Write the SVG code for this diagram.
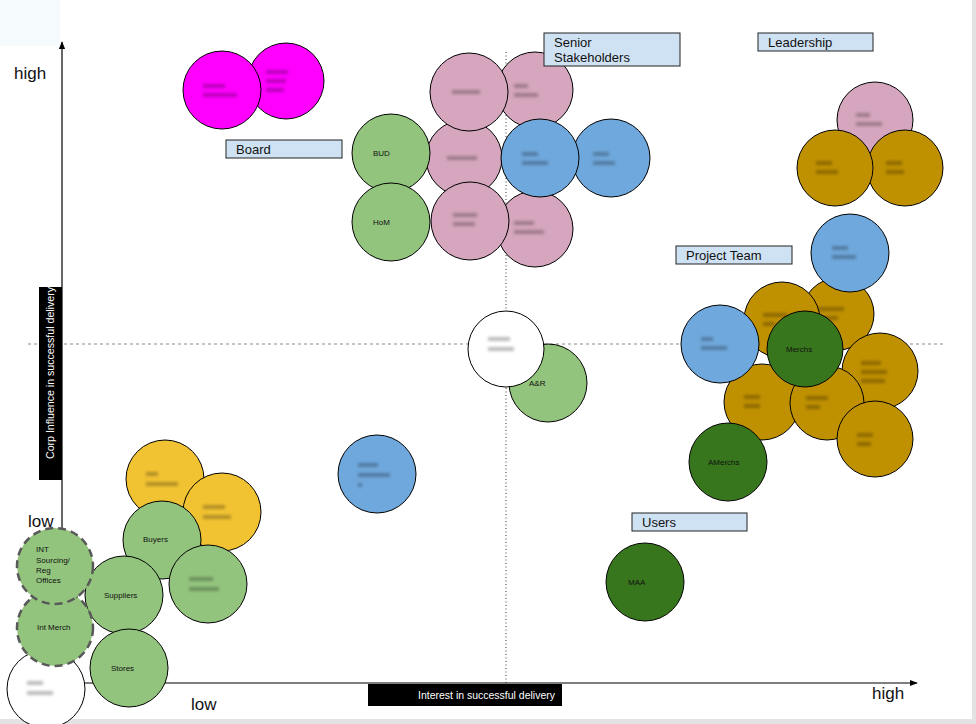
<svg xmlns="http://www.w3.org/2000/svg" width="976" height="724" viewBox="0 0 976 724">
<defs>
<style>
.n{stroke:#000;stroke-width:1}
.pk{fill:#d5a6bd}.mg{fill:#ff00ff}.gr{fill:#93c47d}.bl{fill:#6fa8dc}.gd{fill:#bf9000}.dg{fill:#38761d}.yl{fill:#f1c232}.wh{fill:#fff}
.dash{stroke:#595959;stroke-width:2.5;stroke-dasharray:8 5}
.t{font-family:"Liberation Sans",Arial,sans-serif;font-size:8px;fill:#111}
.lab{fill:#cfe2f3;stroke:#222;stroke-width:1}
.lt{font-family:"Liberation Sans",Arial,sans-serif;font-size:13px;fill:#111}
.ax{font-family:"Liberation Sans",Arial,sans-serif;font-size:17px;fill:#111}
.wt{font-family:"Liberation Sans",Arial,sans-serif;font-size:11px;fill:#fff}
.bb{fill:#000;opacity:0.26}
</style>
<filter id="blur" x="-50%" y="-50%" width="200%" height="200%"><feGaussianBlur stdDeviation="1.7"/></filter>
<marker id="arr" viewBox="0 0 10 10" refX="9" refY="5" markerWidth="8" markerHeight="8" markerUnits="userSpaceOnUse" orient="auto"><path d="M0,1 L10,5 L0,9 z" fill="#000"/></marker>
</defs>
<rect x="0" y="0" width="976" height="724" fill="#fff"/>
<rect x="0" y="0" width="60" height="46" fill="#f5fbfd"/>
<rect x="972" y="0" width="4" height="724" fill="#e3e3e3"/>
<rect x="0" y="719" width="976" height="5" fill="#e3e3e3"/>

<g id="connectors">
<line x1="28" y1="344" x2="945" y2="344" stroke="#888" stroke-width="1" stroke-dasharray="3 3"/>
<line x1="506" y1="52" x2="506" y2="683" stroke="#333" stroke-width="1" stroke-dasharray="1 2.5"/>
<line x1="62" y1="683" x2="62" y2="42" stroke="#000" stroke-width="1.2" marker-end="url(#arr)"/>
<line x1="62" y1="683" x2="917" y2="683" stroke="#000" stroke-width="1.2" marker-end="url(#arr)"/>
</g>

<g id="axis-labels">
<text class="ax" x="14" y="79">high</text>
<text class="ax" x="28" y="527">low</text>
<text class="ax" x="191" y="710">low</text>
<text class="ax" x="872" y="699">high</text>
<rect x="39" y="287" width="23" height="193" fill="#000"/>
<text class="wt" transform="translate(54,459) rotate(-90)" textLength="172" lengthAdjust="spacingAndGlyphs">Corp Influence in successful delivery</text>
<rect x="368" y="684" width="194" height="22" fill="#000"/>
<text class="wt" x="418" y="699" textLength="137" lengthAdjust="spacingAndGlyphs">Interest in successful delivery</text>
</g>

<!-- Board -->
<g id="board-2"><circle class="n mg" cx="286" cy="81" r="38"/><g filter="url(#blur)"><rect class="bb" x="266" y="70" width="22" height="4"/><rect class="bb" x="266" y="79" width="20" height="4"/><rect class="bb" x="266" y="88" width="18" height="4"/></g></g>
<g id="board-1"><circle class="n mg" cx="222" cy="90" r="39"/><g filter="url(#blur)"><rect class="bb" x="203" y="84" width="22" height="4"/><rect class="bb" x="203" y="93" width="34" height="4"/></g></g>

<!-- Senior stakeholders -->
<g id="ss-carl"><circle class="n pk" cx="535" cy="90" r="38"/><g filter="url(#blur)"><rect class="bb" x="514" y="84" width="14" height="4"/><rect class="bb" x="514" y="93" width="24" height="4"/></g></g>
<g id="ss-pb"><circle class="n pk" cx="535" cy="229" r="38"/><g filter="url(#blur)"><rect class="bb" x="514" y="221" width="20" height="4"/><rect class="bb" x="514" y="230" width="30" height="4"/></g></g>
<g id="ss-jim"><circle class="n pk" cx="464" cy="158" r="38"/><g filter="url(#blur)"><rect class="bb" x="447" y="156" width="30" height="4"/></g></g>
<g id="ss-mo"><circle class="n pk" cx="469" cy="92" r="39"/><g filter="url(#blur)"><rect class="bb" x="452" y="90" width="28" height="4"/></g></g>
<g id="ss-rich"><circle class="n pk" cx="470" cy="221" r="39"/><g filter="url(#blur)"><rect class="bb" x="453" y="213" width="24" height="4"/><rect class="bb" x="453" y="222" width="22" height="4"/></g></g>
<g id="node-bud"><circle class="n gr" cx="391" cy="153" r="39"/><text class="t" x="373" y="156">BUD</text></g>
<g id="node-hom"><circle class="n gr" cx="391" cy="222" r="39"/><text class="t" x="373" y="225">HoM</text></g>
<g id="ss-blue2"><circle class="n bl" cx="611" cy="158" r="39"/><g filter="url(#blur)"><rect class="bb" x="593" y="152" width="16" height="4"/><rect class="bb" x="593" y="161" width="22" height="4"/></g></g>
<g id="ss-blue1"><circle class="n bl" cx="540" cy="158" r="39"/><g filter="url(#blur)"><rect class="bb" x="522" y="152" width="16" height="4"/><rect class="bb" x="522" y="161" width="26" height="4"/></g></g>

<!-- Leadership -->
<g id="ld-pink"><circle class="n pk" cx="875" cy="120" r="38"/><g filter="url(#blur)"><rect class="bb" x="856" y="113" width="14" height="4"/><rect class="bb" x="856" y="122" width="26" height="4"/></g></g>
<g id="ld-gold2"><circle class="n gd" cx="905" cy="168" r="38"/><g filter="url(#blur)"><rect class="bb" x="886" y="161" width="16" height="4"/><rect class="bb" x="886" y="170" width="18" height="4"/></g></g>
<g id="ld-gold1"><circle class="n gd" cx="835" cy="168" r="38"/><g filter="url(#blur)"><rect class="bb" x="816" y="161" width="16" height="4"/><rect class="bb" x="816" y="170" width="22" height="4"/></g></g>

<!-- Project team -->
<g id="pt-michael"><circle class="n gd" cx="838" cy="314" r="36"/><g filter="url(#blur)"><rect class="bb" x="818" y="307" width="26" height="4"/><rect class="bb" x="818" y="316" width="20" height="4"/></g></g>
<g id="pt-top-blue"><circle class="n bl" cx="850" cy="253" r="39"/><g filter="url(#blur)"><rect class="bb" x="832" y="246" width="16" height="4"/><rect class="bb" x="832" y="255" width="24" height="4"/></g></g>
<g id="pt-helen"><circle class="n gd" cx="782" cy="320" r="38"/><g filter="url(#blur)"><rect class="bb" x="763" y="313" width="24" height="4"/><rect class="bb" x="763" y="322" width="12" height="4"/></g></g>
<g id="pt-laura"><circle class="n gd" cx="880" cy="371" r="38"/><g filter="url(#blur)"><rect class="bb" x="861" y="361" width="20" height="4"/><rect class="bb" x="861" y="370" width="26" height="4"/><rect class="bb" x="861" y="379" width="24" height="4"/></g></g>
<g id="pt-nikki"><circle class="n gd" cx="762" cy="402" r="38"/><g filter="url(#blur)"><rect class="bb" x="744" y="395" width="16" height="4"/><rect class="bb" x="744" y="404" width="16" height="4"/></g></g>
<g id="pt-robbie"><circle class="n gd" cx="827" cy="403" r="37"/><g filter="url(#blur)"><rect class="bb" x="806" y="396" width="22" height="4"/><rect class="bb" x="806" y="405" width="14" height="4"/></g></g>
<g id="pt-stuart"><circle class="n gd" cx="875" cy="439" r="38"/><g filter="url(#blur)"><rect class="bb" x="857" y="433" width="16" height="4"/><rect class="bb" x="857" y="442" width="14" height="4"/></g></g>
<g id="pt-blue-ro"><circle class="n bl" cx="720" cy="344" r="39"/><g filter="url(#blur)"><rect class="bb" x="701" y="337" width="12" height="4"/><rect class="bb" x="701" y="346" width="26" height="4"/></g></g>
<g id="node-merchs"><circle class="n dg" cx="805" cy="349" r="38"/><text class="t" x="786" y="352">Merchs</text></g>
<g id="node-amerchs"><circle class="n dg" cx="728" cy="462" r="39"/><text class="t" x="708" y="465">AMerchs</text></g>

<!-- Middle -->
<g id="node-ar"><circle class="n gr" cx="548" cy="383" r="39"/><text class="t" x="529" y="386">A&amp;R</text></g>
<g id="mid-white"><circle class="n wh" cx="506" cy="349" r="38"/><g filter="url(#blur)"><rect class="bb" x="488" y="337" width="22" height="4"/><rect class="bb" x="488" y="347" width="26" height="4"/></g></g>
<g id="mid-blue"><circle class="n bl" cx="377" cy="474" r="39"/><g filter="url(#blur)"><rect class="bb" x="358" y="463" width="20" height="4"/><rect class="bb" x="358" y="473" width="32" height="4"/><rect class="bb" x="358" y="483" width="4" height="4"/></g></g>

<!-- Users -->
<g id="node-maa"><circle class="n dg" cx="645" cy="582" r="39"/><text class="t" x="628" y="585">MAA</text></g>

<!-- Bottom-left -->
<g id="bl-ric"><circle class="n yl" cx="165" cy="479" r="39"/><g filter="url(#blur)"><rect class="bb" x="146" y="472" width="12" height="4"/><rect class="bb" x="146" y="482" width="32" height="4"/></g></g>
<g id="bl-elaine"><circle class="n yl" cx="222" cy="512" r="39"/><g filter="url(#blur)"><rect class="bb" x="203" y="505" width="22" height="4"/><rect class="bb" x="203" y="515" width="28" height="4"/></g></g>
<g id="node-buyers"><circle class="n gr" cx="162" cy="540" r="39"/><text class="t" x="143" y="542">Buyers</text></g>
<g id="bl-green"><circle class="n gr" cx="208" cy="584" r="39"/><g filter="url(#blur)"><rect class="bb" x="189" y="577" width="24" height="4"/><rect class="bb" x="189" y="587" width="30" height="4"/></g></g>
<g id="node-suppliers"><circle class="n gr" cx="124" cy="595" r="39"/><text class="t" x="104" y="598">Suppliers</text></g>
<g id="node-stores"><circle class="n gr" cx="129" cy="668" r="39"/><text class="t" x="111" y="671">Stores</text></g>
<g id="bl-white"><circle class="n wh" cx="46" cy="689" r="39"/><g filter="url(#blur)"><rect class="bb" x="27" y="681" width="16" height="4"/><rect class="bb" x="27" y="691" width="26" height="4"/></g></g>
<g id="node-intmerch"><circle class="gr dash" cx="55" cy="628" r="38"/><text class="t" x="37" y="630">Int Merch</text></g>
<g id="node-intsourcing"><circle class="gr dash" cx="55" cy="566" r="38"/><text class="t" x="36" y="552">INT</text><text class="t" x="36" y="563">Sourcing/</text><text class="t" x="36" y="573">Reg</text><text class="t" x="36" y="583">Offices</text></g>

<g id="group-labels">
<g id="lab-board"><rect class="lab" x="226" y="140" width="116" height="18"/><text class="lt" x="236" y="154">Board</text></g>
<g id="lab-senior"><rect class="lab" x="544" y="33" width="136" height="33"/><text class="lt" x="554" y="47">Senior</text><text class="lt" x="554" y="62">Stakeholders</text></g>
<g id="lab-leadership"><rect class="lab" x="758" y="33" width="115" height="18"/><text class="lt" x="768" y="47">Leadership</text></g>
<g id="lab-project"><rect class="lab" x="676" y="246" width="116" height="18"/><text class="lt" x="686" y="260">Project Team</text></g>
<g id="lab-users"><rect class="lab" x="632" y="513" width="115" height="18"/><text class="lt" x="642" y="527">Users</text></g>
</g>
</svg>
